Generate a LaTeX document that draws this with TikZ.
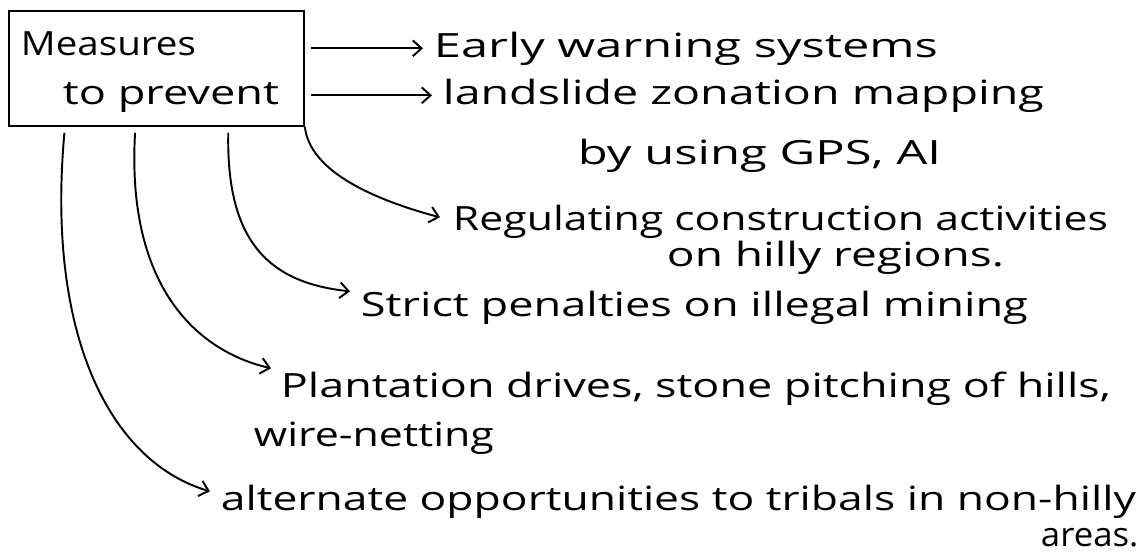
\documentclass[tikz,border=0pt]{standalone}
\usepackage{fontspec}
\usepackage{graphicx}
\setmainfont{Open Sans}
\usetikzlibrary{arrows.meta,calc}
\newcommand{\fitw}[2]{\resizebox{#1}{\height}{#2}}
\begin{document}
\begin{tikzpicture}[x=0.02cm,y=-0.02cm,line width=1.1pt,
  arr/.style={-{Straight Barb[length=5pt,width=9pt,line width=1.1pt]}},
  lbl/.style={anchor=base west,inner sep=0pt,font=\fontsize{19}{23}\selectfont}]
\useasboundingbox (0,0) rectangle (1142,555);
\node (box) [draw,anchor=north west,inner sep=0pt,minimum width=5.9cm,minimum height=2.3cm] at (8,10) {};
\node (m1) [lbl] at (20,55) {\fitw{3.5cm}{Measures}};
\node (m2) [lbl] at (62,104) {\fitw{4.32cm}{to prevent}};
\node (t1) [lbl] at (433,57) {\fitw{10.08cm}{Early warning systems}};
\node (t2) [lbl] at (442,104) {\fitw{12.02cm}{landslide zonation mapping}};
\node (t2b) [lbl] at (577,164) {\fitw{7.26cm}{by using GPS, AI}};
\node (t3) [lbl] at (452,230) {\fitw{13.1cm}{Regulating construction activities}};
\node (t3b) [lbl] at (666,266) {\fitw{6.74cm}{on hilly regions.}};
\node (t4) [lbl] at (360,316) {\fitw{13.34cm}{Strict penalties on illegal mining}};
\node (t5) [lbl] at (280,397) {\fitw{16.6cm}{Plantation drives, stone pitching of hills,}};
\node (t5b) [lbl] at (253,446) {\fitw{4.8cm}{wire-netting}};
\node (t6) [lbl] at (220,510) {\fitw{18.3cm}{alternate opportunities to tribals in non-hilly}};
\node (t6b) [lbl] at (1040,546) {\fitw{1.95cm}{areas.}};
\draw[arr] ($(box.east |- t1.west)+(6,0)$) -- ($(t1.west)+(-10,0)$);
\draw[arr] ($(box.east |- t2.west)+(6,0)$) -- ($(t2.west)+(-10,0)$);
\draw[arr] (box.south east) .. controls (310,172) and (375,200) .. ($(t3.west)+(-12,-4)$);
\draw[arr] ($(box.south west)!0.742!(box.south east)+(0,6)$) .. controls (226,245) and (272,283) .. ($(t4.west)+(-10,-16)$);
\draw[arr] ($(box.south west)!0.428!(box.south east)+(0,6)$) .. controls (126,290) and (200,352) .. ($(t5.west)+(-9,-20)$);
\draw[arr] ($(box.south west)!0.19!(box.south east)+(0,6)$) .. controls (46,335) and (110,462) .. ($(t6.west)+(-10,-10)$);
\end{tikzpicture}
\end{document}
